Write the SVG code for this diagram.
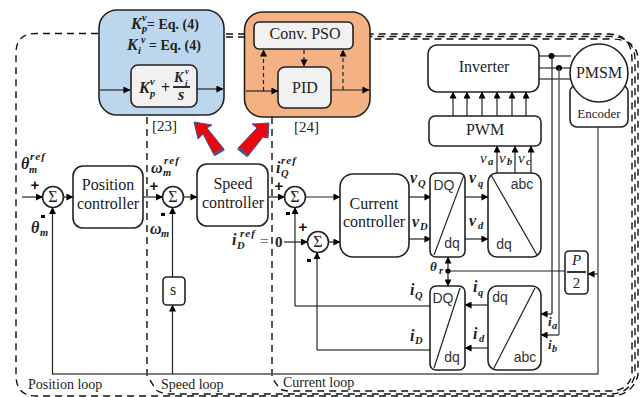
<svg xmlns="http://www.w3.org/2000/svg" width="644" height="397" viewBox="0 0 644 397">
<defs>
<marker id="a" viewBox="0 0 8 8" refX="7.5" refY="4" markerWidth="7" markerHeight="7" markerUnits="userSpaceOnUse" orient="auto"><path d="M0 0L8 4L0 8Z" fill="#000"/></marker>
</defs>
<style>
text{font-family:"Liberation Serif",serif;fill:#222}
.t{font-size:16px;text-anchor:middle}
.sg{font-size:16px;text-anchor:middle}
.h{font-family:"Liberation Sans",sans-serif;font-size:14px;fill:#333;text-anchor:middle}
.m{font-style:italic;font-weight:bold;font-size:16px}
.s{font-style:italic;font-weight:bold;font-size:10.500px}
.r{font-style:italic;font-weight:bold;font-size:11px;letter-spacing:1px}
.n{font-style:italic;font-size:15px}
.b{fill:#fff;stroke:#222;stroke-width:1.6}
.g{fill:#f1f1f1;stroke:#222;stroke-width:1.6}
.l{fill:none;stroke:#222;stroke-width:1.2}
.ar{fill:none;stroke:#222;stroke-width:1.2;marker-end:url(#a)}
.gr{fill:none;stroke:#555;stroke-width:1.4}
.d{fill:none;stroke:#111;stroke-width:1.4;stroke-dasharray:7 5}
.dd{fill:none;stroke:#222;stroke-width:1.2;stroke-dasharray:4 3;marker-end:url(#a)}
.pm{font-family:"Liberation Sans",sans-serif;font-weight:bold;font-size:15px;text-anchor:middle;fill:#111}
.q{font-size:14px;font-weight:bold}
.lp{font-size:14px}
</style>
<g id="loops">
<path class="d" d="M98 33.500H36Q16 33.500 16 53V375Q16 396 36 396H610Q632 396 638 375V60Q638 39 610 39H370"/>
<path class="d" d="M226 34H244M226 37H244"/>
<path class="d" d="M147 117V375L156 390Q162 394 170 394H610Q630 394 635 375V60Q635 36.500 610 36.500H370"/>
<path class="d" d="M272 117V378L280 389Q284 391 290 391H610Q628 391 632 375V60Q632 34 608 34H370"/>
</g>
<g id="connectors">
<path class="ar" d="M22 197H42.500"/>
<path class="ar" d="M63.500 197H73"/>
<path class="ar" d="M143 197H162.500"/>
<path class="ar" d="M183.500 197H197"/>
<path class="ar" d="M268 197H284.500"/>
<path class="ar" d="M305.500 197H340"/>
<path class="ar" d="M284 242H307.500"/>
<path class="ar" d="M328.500 242H340"/>
<path class="ar" d="M409 197H431"/>
<path class="ar" d="M409 239H431"/>
<path class="ar" d="M465 197H488"/>
<path class="ar" d="M465 239H488"/>
<path class="ar" d="M497 173V146"/>
<path class="ar" d="M515 173V146"/>
<path class="ar" d="M531 173V146"/>
<path class="ar" d="M453 116V92"/>
<path class="ar" d="M467 116V92"/>
<path class="ar" d="M482 116V92"/>
<path class="ar" d="M497 116V92"/>
<path class="ar" d="M512 116V92"/>
<path class="ar" d="M526 116V92"/>
<path class="gr" d="M539 56H571M539 68H571M539 79H571"/>
<circle cx="551.500" cy="56" r="3" fill="#000"/><circle cx="559" cy="68" r="3" fill="#000"/>
<path class="l" d="M552 56V314"/>
<path class="gr" d="M559 68V335"/>
<path class="ar" d="M552 314H541"/>
<path class="ar" d="M559 335H541"/>
<path class="gr" d="M598 127V374H52"/>
<path class="ar" d="M598 274H588"/>
<path class="l" d="M565 271H448"/>
<circle cx="448" cy="271" r="2.600" fill="#000"/>
<path class="ar" d="M448 271V257"/>
<path class="ar" d="M448 271V286"/>
<path class="ar" d="M488 305H465"/>
<path class="ar" d="M488 348H465"/>
<path class="gr" d="M431 306H295"/>
<path class="ar" d="M295 306V207.500"/>
<path class="gr" d="M431 350H317"/>
<path class="ar" d="M317 350V252.500"/>
<path class="ar" d="M52.500 374V207.500"/>
<path class="ar" d="M172.500 305V207.500"/>
<path class="ar" d="M172.500 374V305"/>
</g>
<g id="pos-sum"><circle class="b" cx="53" cy="197" r="10.500"/><text class="sg" x="53" y="202">Σ</text></g>
<g id="speed-sum"><circle class="b" cx="173" cy="197" r="10.500"/><text class="sg" x="173" y="202">Σ</text></g>
<g id="iq-sum"><circle class="b" cx="295" cy="197" r="10.500"/><text class="sg" x="295" y="202">Σ</text></g>
<g id="id-sum"><circle class="b" cx="318" cy="242" r="10.500"/><text class="sg" x="318" y="247">Σ</text></g>
<g id="position-controller"><rect class="b" x="73" y="166" width="70" height="62" rx="10"/><text class="t" x="108" y="190">Position</text><text class="t" x="108" y="209">controller</text></g>
<g id="speed-controller"><rect class="b" x="197" y="164" width="71" height="62" rx="10"/><text class="t" x="233" y="189">Speed</text><text class="t" x="233" y="208">controller</text></g>
<g id="current-controller"><rect class="b" x="340" y="174" width="69" height="83" rx="13"/><text class="t" x="374" y="209">Current</text><text class="t" x="374" y="227">controller</text></g>
<g id="s-block"><rect class="b" x="163" y="277" width="22" height="28" rx="4"/><text class="t" x="173" y="295" font-size="13">s</text></g>
<g id="dq-top"><rect class="b" x="430" y="173" width="35" height="84" rx="6"/><path class="l" d="M464 175L434 255"/><text class="h" x="444" y="190">DQ</text><text class="h" x="452" y="248">dq</text></g>
<g id="abc-top"><rect class="b" x="488" y="173" width="53" height="84" rx="9"/><path class="l" d="M491 175L537 255"/><text class="h" x="522" y="189">abc</text><text class="h" x="504" y="249">dq</text></g>
<g id="dq-bottom"><rect class="b" x="430" y="286" width="35" height="84" rx="6"/><path class="l" d="M460 288L434 368"/><text class="h" x="443" y="303">DQ</text><text class="h" x="452" y="362">dq</text></g>
<g id="abc-bottom"><rect class="b" x="488" y="286" width="53" height="84" rx="9"/><path class="l" d="M535 288L494 368"/><text class="h" x="500" y="302">dq</text><text class="h" x="525" y="362">abc</text></g>
<g id="p2"><rect class="b" x="565" y="251" width="23" height="43" rx="4"/><text x="576.500" y="265" text-anchor="middle" font-size="15" font-style="italic">P</text><path d="M567 272H586" stroke="#000" stroke-width="1.600"/><text x="576.500" y="288" text-anchor="middle" font-size="15">2</text></g>
<g id="pwm"><rect class="b" x="429" y="116" width="112" height="30" rx="6"/><text class="t" x="485" y="135">PWM</text></g>
<g id="inverter"><rect class="b" x="428" y="45" width="111" height="47" rx="9"/><text class="t" x="484" y="72">Inverter</text></g>
<g id="encoder"><rect class="b" x="570" y="85" width="58" height="42" rx="7"/><text x="599" y="118" text-anchor="middle" font-size="13">Encoder</text></g>
<g id="pmsm"><circle class="b" cx="599" cy="73" r="29"/><text class="t" x="599" y="78">PMSM</text></g>
<g id="pi-block"><rect x="99" y="10" width="125" height="105" rx="18" fill="#bcd6ee" stroke="#222" stroke-width="1.600"/>
<text x="131" y="29" class="m">K</text><text x="142" y="21" class="s">v</text><text x="142" y="32" class="s">p</text><text x="147" y="29" class="q">= Eq. (4)</text>
<text x="127" y="50" class="m">K</text><text x="138" y="54" class="s">i</text><text x="141" y="43" class="s">v</text><text x="149" y="50" class="q">= Eq. (4)</text>
<rect class="g" x="131" y="65" width="66" height="42" rx="7"/>
<text x="139" y="93" class="m">K</text><text x="150" y="85" class="s">v</text><text x="150" y="97" class="s">p</text><text x="161" y="93" font-weight="bold" font-size="16">+</text>
<text x="174" y="82" font-style="italic" font-weight="bold" font-size="14">K</text><text x="185" y="85.500" font-style="italic" font-weight="bold" font-size="9">i</text><text x="185" y="74" font-style="italic" font-weight="bold" font-size="9">v</text><path d="M173 87H190" stroke="#000" stroke-width="1.600"/><text x="178" y="100" class="m">s</text>
<path class="ar" d="M100 90H130"/><path class="ar" d="M197 89H223"/></g>
<g id="pso-block"><rect x="244.500" y="12" width="125.500" height="105" rx="18" fill="#f3b184" stroke="#222" stroke-width="1.600"/><rect class="g" x="254" y="22" width="99" height="27" rx="5"/><text class="t" x="305" y="39">Conv. PSO</text><rect class="g" x="278" y="67" width="53" height="41" rx="7"/><text class="t" x="305" y="93">PID</text><path class="ar" d="M246 91H278"/><path class="ar" d="M331 90H369"/><path class="dd" d="M263.500 91V50"/><path class="dd" d="M343 90V50"/><path class="dd" d="M304 50V66"/></g>
<g id="arrows">
<path d="M194 122L212 125L207 128L224 149L214 155L203 134L198 139Z" fill="#e8090f" stroke="#44559a" stroke-width="1"/>
<path d="M214 155L224 149" stroke="#44559a" stroke-width="3" fill="none"/>
<path d="M269 123L252 124L257 128L238 148L248 156L263 137L268 138Z" fill="#e8090f" stroke="#44559a" stroke-width="1"/>
<path d="M238 148L248 156" stroke="#44559a" stroke-width="3" fill="none"/>
</g>
<g id="labels">
<text x="152" y="131" font-size="15">[23]</text><text x="294" y="132" font-size="15">[24]</text>
<text x="21" y="169" class="m">θ</text><text x="29" y="173" class="s">m</text><text x="30" y="160" class="r">ref</text>
<text x="151" y="173" class="m">ω</text><text x="163" y="176" class="s">m</text><text x="164" y="164" class="r">ref</text>
<text x="276" y="173" class="m">i</text><text x="281" y="177" class="s">Q</text><text x="281" y="164" class="r">ref</text>
<text x="31" y="233" class="m">θ</text><text x="40" y="236" class="s">m</text>
<text x="150" y="234" class="m">ω</text><text x="161" y="237" class="s">m</text>
<text x="232" y="245" class="m">i</text><text x="237" y="249" class="s">D</text><text x="240" y="237" class="r">ref</text>
<text x="260" y="246" font-size="15" font-weight="bold" style="fill:#777">=</text><text x="275" y="247" font-size="15" font-weight="bold">0</text>
<text class="pm" x="35" y="190">+</text><text class="pm" x="154" y="191">+</text><text class="pm" x="279" y="191">+</text><text class="pm" x="303" y="232">+</text>
<rect x="41" y="215" width="4" height="3" fill="#000"/><rect x="161" y="213" width="4" height="3" fill="#000"/><rect x="286" y="212" width="4" height="3" fill="#000"/><rect x="307" y="259" width="4" height="3" fill="#000"/>
<text x="410" y="183" class="m">v</text><text x="418" y="187" class="s">Q</text>
<text x="412" y="227" class="m">v</text><text x="420" y="230" class="s">D</text>
<text x="469" y="183" class="m">v</text><text x="478" y="187" class="s">q</text>
<text x="469" y="226" class="m">v</text><text x="478" y="229" class="s">d</text>
<text x="480" y="163" class="n">v</text><text x="488" y="165" class="s">a</text>
<text x="499" y="163" class="n">v</text><text x="507" y="165" class="s">b</text>
<text x="518" y="163" class="n">v</text><text x="526" y="165" class="s">c</text>
<text x="430" y="271" font-style="italic" font-weight="bold" font-size="13">θ</text><text x="439" y="274" class="s">r</text>
<text x="410" y="295" class="m">i</text><text x="415" y="299" class="s">Q</text>
<text x="410" y="341" class="m">i</text><text x="415" y="344" class="s">D</text>
<text x="473" y="292" class="m">i</text><text x="478" y="296" class="s">q</text>
<text x="473" y="339" class="m">i</text><text x="479" y="342" class="s">d</text>
<text x="548" y="326" font-style="italic" font-weight="bold" font-size="13">i</text><text x="552" y="329" class="s">a</text>
<text x="548" y="349" font-style="italic" font-weight="bold" font-size="13">i</text><text x="552" y="352" class="s">b</text>
<text x="28" y="389" class="lp">Position loop</text>
<text x="161" y="389" class="lp">Speed loop</text>
<text x="283" y="387" class="lp">Current loop</text>
</g>
</svg>
